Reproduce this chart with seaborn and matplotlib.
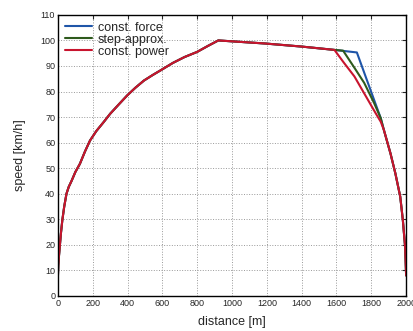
import numpy as np
import pandas as pd
import matplotlib
matplotlib.use("Agg")
import matplotlib.pyplot as plt
import seaborn as sns

# common part: acceleration + cruising
accel_dist = [0, 2, 5, 10, 17, 25, 36, 49, 62, 78, 100, 126, 155, 184, 220, 262,
              300, 350, 398, 445, 494, 545, 597, 660, 727, 799, 860, 921]
accel_speed = [8, 12, 15, 19, 24.5, 29.6, 35, 40, 42.7, 45, 48.5, 51.7, 56.5, 60.8,
               64.5, 68, 71.3, 75, 78.5, 81.5, 84.3, 86.5, 88.6, 91.2, 93.5, 95.5, 97.8, 100]
cruise_dist = [1190, 1400, 1588]
cruise_speed = [98.8, 97.6, 96.3]

# braking part, different per strategy
force_dist = [1717, 1854, 1872]
force_speed = [95.3, 69.6, 65]
step_dist = [1638, 1703, 1759, 1816, 1854, 1872]
step_speed = [96.0, 89.3, 83.4, 75.5, 69.6, 65]
power_dist = [1640, 1703, 1759, 1825, 1854, 1872]
power_speed = [91.5, 85.9, 79.3, 71.5, 68.2, 65]

# common tail
tail_dist = [1910, 1938, 1966, 1981, 1994, 2000]
tail_speed = [55.8, 48, 38.9, 29.8, 19.3, 8]

labels = ["const. force", "step-approx.", "const. power"]
colors = ["#1f55a8", "#2e5a1c", "#c8142e"]

frames = []
for lab, bd, bs in zip(labels, [force_dist, step_dist, power_dist],
                       [force_speed, step_speed, power_speed]):
    d = accel_dist + cruise_dist + bd + tail_dist
    s = accel_speed + cruise_speed + bs + tail_speed
    frames.append(pd.DataFrame({"distance": d, "speed": s, "mode": lab}))
df = pd.concat(frames, ignore_index=True)

sns.set_style("white")
plt.rcParams["font.family"] = ["Liberation Sans", "DejaVu Sans"]

fig = plt.figure(figsize=(4.14, 3.31), dpi=100)
ax = fig.add_axes([0.140, 0.106, 0.841, 0.849])

sns.lineplot(data=df, x="distance", y="speed", hue="mode", hue_order=labels,
             palette=dict(zip(labels, colors)), sort=False, estimator=None,
             linewidth=1.5, ax=ax)

ax.set_xlim(0, 2000)
ax.set_ylim(0, 110)
ax.set_xticks(np.arange(0, 2001, 200))
ax.set_yticks(np.arange(0, 111, 10))
ax.tick_params(direction="in", top=True, right=True, labelsize=6.5, length=3, width=0.8, pad=2)
ax.grid(True, linestyle=":", color="#999999", linewidth=0.7)
for sp in ax.spines.values():
    sp.set_color("black")
    sp.set_linewidth(1.0)

ax.set_xlabel("distance [m]", fontsize=9, labelpad=6)
ax.set_ylabel("speed [km/h]", fontsize=9, labelpad=10)

leg = ax.legend(loc="upper left", frameon=False, fontsize=9, handlelength=2.2,
                labelspacing=0.0, borderaxespad=0.15, handletextpad=0.45)
leg.set_title(None)

fig.savefig("out.png", dpi=100)
